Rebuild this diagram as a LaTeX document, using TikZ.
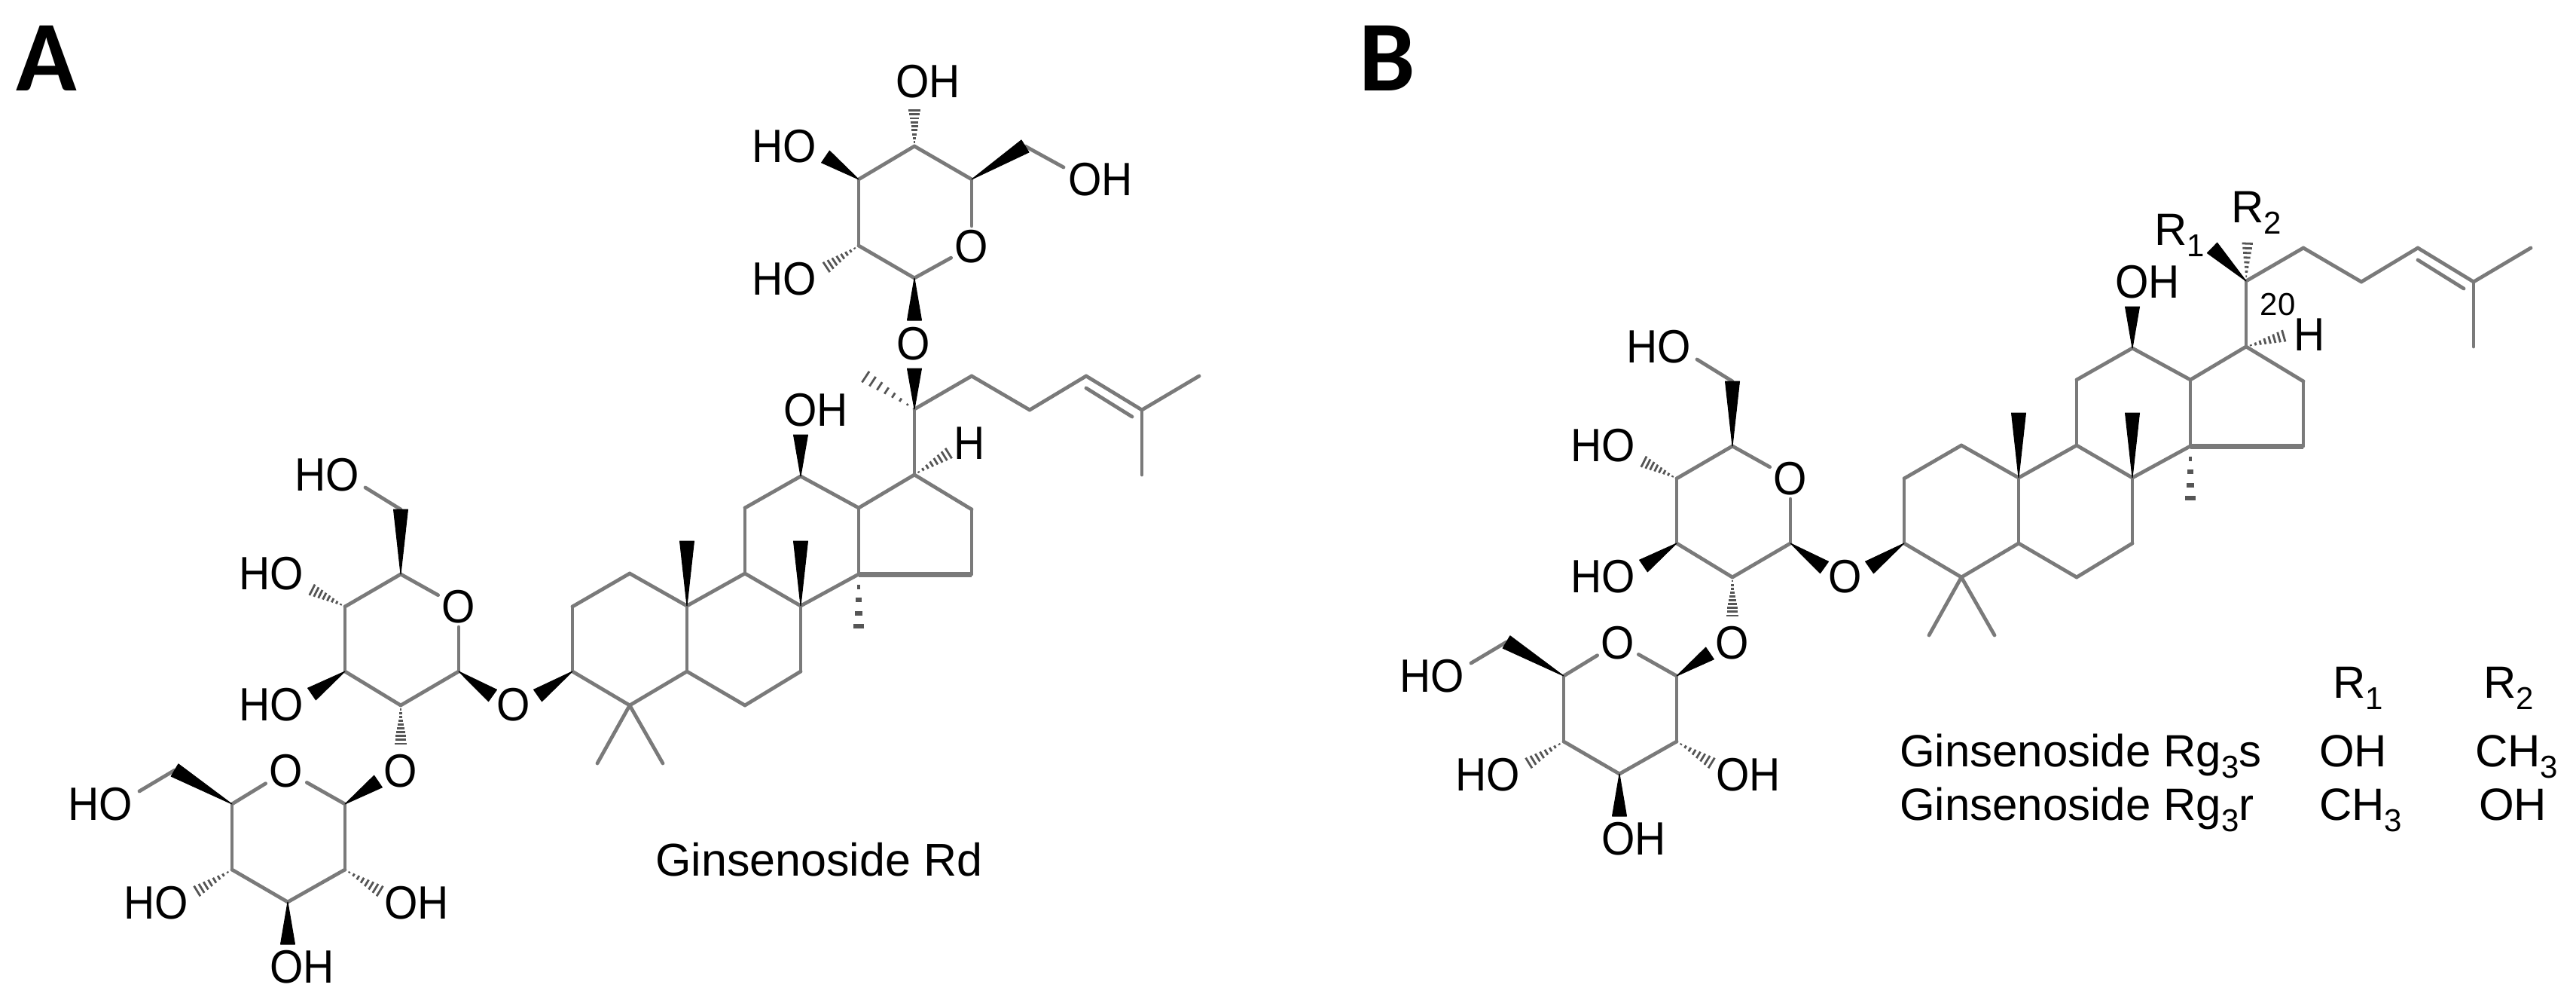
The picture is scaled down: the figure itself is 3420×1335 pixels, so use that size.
\documentclass[tikz,border=0pt]{standalone}
\usepackage{fontspec}
\usetikzlibrary{calc}
\setmainfont{Liberation Sans}
\newfontfamily\atomfont[FakeStretch=0.92]{Liberation Sans}
\newfontfamily\panelfont{Carlito}
\definecolor{bondgray}{HTML}{7A7A7A}
\tikzset{
  bond/.style={draw=bondgray,line width=4.8pt,line cap=round,line join=round},
  boldbond/.style={draw=bondgray,line width=7pt,line cap=butt},
  wedgefill/.style={fill=black,draw=black,line width=1pt,line join=round},
  hashline/.style={draw=bondgray!70!black,line width=2.8pt},
  chunky/.style={hashline/.style={draw=bondgray!70!black,line width=6pt}},
  atom/.style={font=\atomfont\fontsize{62}{62}\selectfont,inner sep=5pt,text=black},
  label/.style={font=\fontsize{60}{60}\selectfont,inner sep=0pt,anchor=base west,text=black},
  biglabel/.style={label,font=\fontsize{61}{61}\selectfont},
  smalllabel/.style={font=\fontsize{42}{42}\selectfont,inner sep=0pt,text=black},
  paneltag/.style={font=\panelfont\bfseries\fontsize{133}{133}\selectfont,inner sep=0pt,text=black}
}
\newcommand{\subsc}[1]{\raisebox{-15pt}{\fontsize{42}{42}\selectfont #1}}
% wedge: narrow at #2, wide at #3, half-width [#1]
\newcommand{\wedgeb}[3][9.5]{\path[wedgefill] (#2) -- ($(#3)!#1pt!90:(#2)$) -- ($(#3)!#1pt!-90:(#2)$) -- cycle;}
% hash: narrow at #3, wide at #4; #1 half-width, #2 number of strokes
\newcommand{\hashb}[4][10]{%
  \foreach \i in {1,...,#2}{%
    \pgfmathsetmacro{\tt}{\i/#2}%
    \pgfmathsetmacro{\hw}{\tt*#1}%
    \draw[hashline] ($(#3)!\tt!(#4)!\hw pt!90:(#4)$) -- ($(#3)!\tt!(#4)!\hw pt!-90:(#4)$);
  }}
% everything common to both panels, in panel A's pixel frame
\newcommand{\sharedskeleton}{%
  % steroid rings and side chain
  \foreach \n/\x/\y in {c1/836/761,c2/760/805,c3/760/891,c4/836/936,c5/912/891,c10/912/804,
    c6/989/936,c7/1063/891,c8/1063/804,c9/989/761,c11/989/674,c12/1063/632,c13/1140/674,c14/1140/762,
    c15/1290/762,c16/1290/676,c17/1214/630,c20/1214/543,c22/1290/499,c23/1367/544,c24/1442/499,
    c25/1516/544,c26/1592/499,c27/1516/630,d1/1442/515,d2/1503/553,
    m4a/793/1013,m4b/880/1013,m10/912/718,m8/1063/718,m14/1140/848,w12/1063/577,
    % sugar on C3
    s1/609/891,s2/532/936,s3/458/891,s4/458/805,s5/532/762,s6/532/676,
    e6/485/647,h4/409/780,w3/414/921,w1/654/923,w3c/714/923,h2/532/992,
    % terminal sugar
    t1/458/1067,t2/458/1154,t3/382/1197,t4/308/1154,t5/308/1067,t6/232/1022,
    e7/185/1050,w7/502/1037,h7/510/1186,h8/256/1186,w8/382/1253}
    {\coordinate (\n) at (\x,\y);}
  \foreach \a/\b in {c1/c2,c2/c3,c3/c4,c4/c5,c5/c10,c10/c1,c5/c6,c6/c7,c7/c8,c8/c9,c9/c10,
    c9/c11,c11/c12,c12/c13,c13/c14,c14/c8,c13/c17,c17/c16,c16/c15,c17/c20,c20/c22,c22/c23,c23/c24,
    c24/c25,c25/c26,c25/c27,d1/d2,c4/m4a,c4/m4b,
    s1/s2,s2/s3,s3/s4,s4/s5,s6/e6,t1/t2,t2/t3,t3/t4,t4/t5,t6/e7}
    {\draw[bond] (\a) -- (\b);}
  \draw[boldbond] (c14) -- (c15);
  \node[atom] (o5) at (609,805) {O};
  \node[atom] (o3) at (682,935) {O};
  \node[atom] (o2) at (532,1023) {O};
  \node[atom] (o7) at (380,1023) {O};
  \draw[bond] (s5) -- (o5); \draw[bond] (s1) -- (o5);
  \draw[bond] (t1) -- (o7); \draw[bond] (t5) -- (o7);
  \node[atom] (l1) at (434,630) {HO};
  \node[atom] (l2) at (360,761) {HO};
  \node[atom] (l3) at (360,935) {HO};
  \node[atom] (l4) at (133,1067) {HO};
  \node[atom] (l5) at (207,1198) {HO};
  \node[atom] (l6) at (553,1198) {OH};
  \node[atom] (l7) at (401,1283) {OH};
  \node[atom] (l8) at (1083,544) {OH};
  \wedgeb{s5}{s6}
  \wedgeb{c10}{m10}\wedgeb{c8}{m8}
  \wedgeb{c12}{w12}
  \wedgeb{s3}{w3}\wedgeb{s1}{w1}\wedgeb{c3}{w3c}
  \wedgeb{t1}{w7}\wedgeb{t5}{t6}\wedgeb{t3}{w8}
  \begin{scope}[chunky]\hashb[9]{5}{c14}{m14}\end{scope}
  \hashb[9]{9}{s4}{h4}
  \hashb[9]{11}{s2}{h2}
  \hashb[9]{9}{t2}{h7}
  \hashb[9]{9}{t4}{h8}
}
\begin{document}
\begin{tikzpicture}[x=1pt,y=-1pt]
\useasboundingbox (0,0) rectangle (3420,1335);
% ---------- panel A ----------
\begin{scope}[name prefix=A]
  \sharedskeleton
  \node[paneltag] (tagA) at (62,77) {A};
  \foreach \n/\x/\y in {u1/1214/194,u2/1290/238,u3/1140/238,u4/1140/326,u5/1214/369,u6/1361/194,
     ue/1412/222,uw1/1096/208,uh1/1214/141,uh2/1092/358,uw2/1214/425,uw3/1214/489,uh3/1140/494,uh4/1265/598}
     {\coordinate (\n) at (\x,\y);}
  \foreach \a/\b in {u1/u2,u1/u3,u3/u4,u4/u5,u6/ue}{\draw[bond] (\a) -- (\b);}
  \node[atom] (uo) at (1290,327) {O};
  \node[atom] (ulink) at (1213,456) {O};
  \draw[bond] (u5) -- (uo); \draw[bond] (u2) -- (uo);
  \node[atom] (a1) at (1232,108) {OH};
  \node[atom] (a2) at (1041,194) {HO};
  \node[atom] (a3) at (1461,238) {OH};
  \node[atom] (a4) at (1041,370) {HO};
  \node[atom] (a5) at (1287,588) {H};
  \wedgeb{u3}{uw1}\wedgeb{u2}{u6}\wedgeb{u5}{uw2}\wedgeb{c20}{uw3}
  \hashb[9]{10}{u1}{uh1}
  \hashb[9]{9}{u4}{uh2}
  \hashb[10]{8}{c20}{uh3}
  \hashb[9]{9}{c17}{uh4}
  \node[biglabel] (rd) at (870,1162) {Ginsenoside Rd};
\end{scope}
% ---------- panel B ----------
\begin{scope}[shift={(1768,-170)},name prefix=B]
  \sharedskeleton
  \node[paneltag] (tagB) at (74,247) {B};
  \coordinate (wr) at (1169,499);
  \coordinate (hr) at (1216,487);
  \coordinate (hhb) at (1270,614);
  \wedgeb{c20}{wr}
  \hashb[8]{9}{c20}{hr}
  \hashb[9]{9}{c17}{hhb}
  \node[label] (r1) at (1092,495) {R\subsc{1}};
  \node[label] (r2) at (1194,465) {R\subsc{2}};
  \node[smalllabel] (n20) at (1256,574) {20};
  \node[atom] (hb) at (1298,614) {H};
  \node[label] (hdr1) at (1329,1096) {R\subsc{1}};
  \node[label] (hdr2) at (1529,1096) {R\subsc{2}};
  \node[label] (g1) at (754,1187) {Ginsenoside Rg\subsc{3}s};
  \node[label] (g2) at (754,1258) {Ginsenoside Rg\subsc{3}r};
  \node[label] (v11) at (1311,1187) {OH};
  \node[label] (v12) at (1518,1187) {CH\subsc{3}};
  \node[label] (v21) at (1311,1258) {CH\subsc{3}};
  \node[label] (v22) at (1523,1258) {OH};
\end{scope}
\end{tikzpicture}
\end{document}
